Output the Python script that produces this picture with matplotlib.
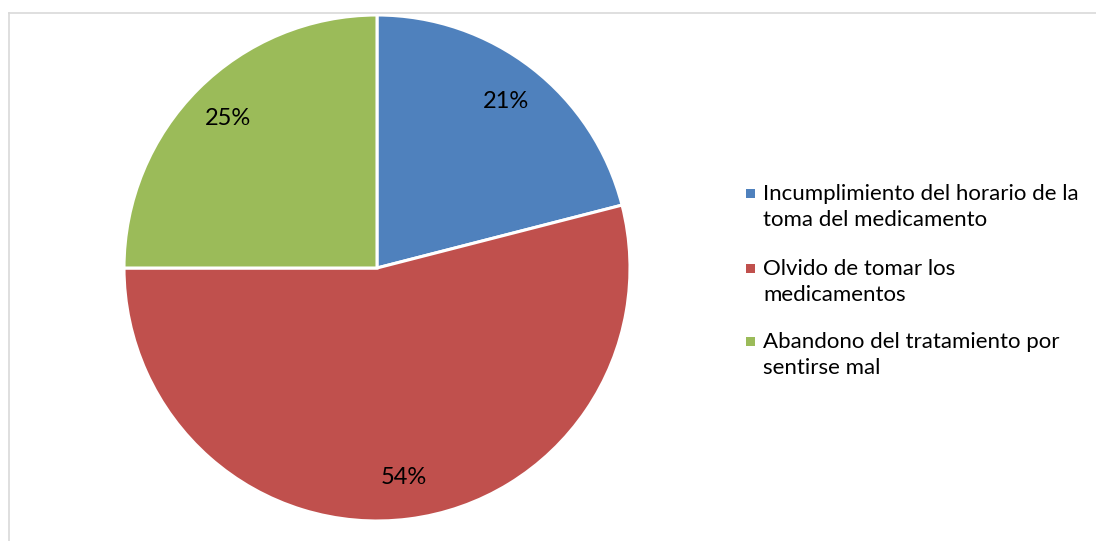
import matplotlib
matplotlib.use("Agg")
import matplotlib.pyplot as plt
from matplotlib.patches import Rectangle
from matplotlib.lines import Line2D

# causes of non-adherence (percent of respondents)
labels = ["Incumplimiento del horario de la\ntoma del medicamento",
          "Olvido de tomar los\nmedicamentos",
          "Abandono del tratamiento por\nsentirse mal"]
shares = [21, 54, 25]
colors = ["#4F81BD", "#C0504D", "#9BBB59"]

W, H = 1096, 541
plt.rcParams["font.family"] = ["Lato", "DejaVu Sans"]

fig = plt.figure(figsize=(W / 100, H / 100), dpi=100)
ax = fig.add_axes([0, 0, 1, 1])
ax.set_xlim(0, W)
ax.set_ylim(0, H)
ax.set_aspect("equal")
ax.axis("off")

# thin grey chart-area frame (top and left edges visible)
fig.add_artist(Line2D([9 / W, 9 / W], [0, 1 - 13 / H], color="#D9D9D9", lw=1.2))
fig.add_artist(Line2D([9 / W, 1], [1 - 13 / H, 1 - 13 / H], color="#D9D9D9", lw=1.2))

ax.pie(shares, colors=colors, startangle=90, counterclock=False,
       center=(377, H - 268), radius=253,
       autopct=lambda p: f"{p:.0f}%", pctdistance=0.835,
       wedgeprops=dict(edgecolor="white", linewidth=2.2),
       textprops=dict(fontsize=17, color="black"))
ax.set_xlim(0, W)
ax.set_ylim(0, H)

# legend: square swatch next to the first line of each label
rows = [193, 268, 341]
for lab, col, y in zip(labels, colors, rows):
    ax.add_patch(Rectangle((746, H - y - 4.5), 9, 9, facecolor=col, edgecolor="none"))
    ax.text(763, H - y - 14, lab, fontsize=16, va="center", ha="left",
            linespacing=1.36)

fig.savefig("out.png", dpi=100)
